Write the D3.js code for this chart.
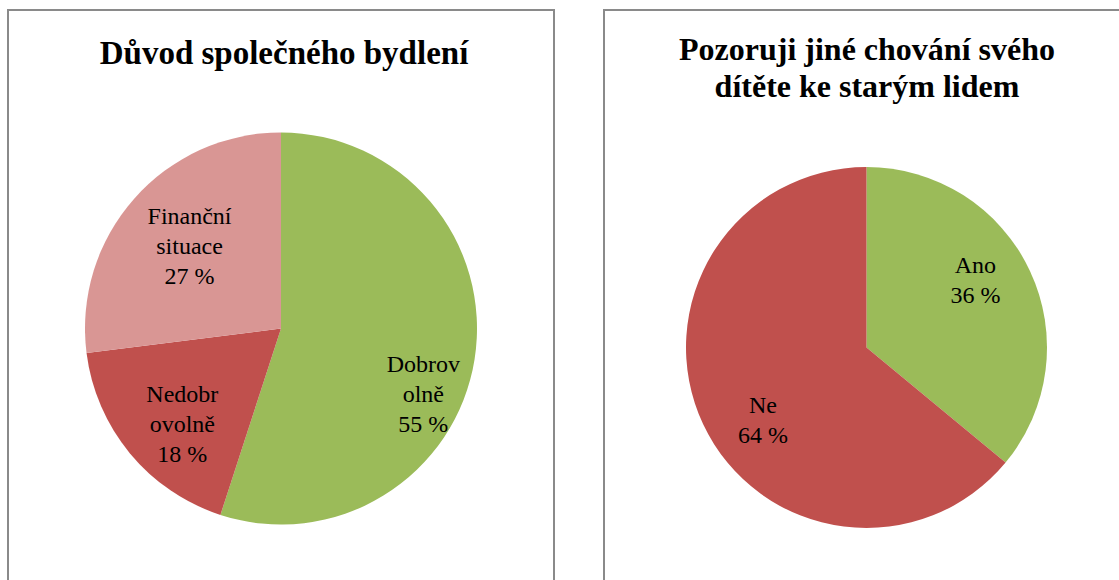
<!DOCTYPE html>
<html><head><meta charset="utf-8">
<script src="https://cdn.jsdelivr.net/npm/d3@7"></script>
<style>html,body{margin:0;padding:0;background:#fff;}svg{display:block;} text{font-family:"Liberation Serif","Times New Roman",Times,serif;}</style>
</head><body>
<script>
// Data
const chart1Title = ["Důvod společného bydlení"];
const chart1Categories = ["Dobrovolně", "Nedobrovolně", "Finanční situace"];
const chart1Labels = [["Dobrov", "olně"], ["Nedobr", "ovolně"], ["Finanční", "situace"]];
const chart1Values = [55, 18, 27];

const chart2Title = ["Pozoruji jiné chování svého", "dítěte ke starým lidem"];
const chart2Categories = ["Ano", "Ne"];
const chart2Labels = [["Ano"], ["Ne"]];
const chart2Values = [36, 64];

// Layout / style
const W = 1119, H = 580;
const svg = d3.select("body").append("svg").attr("width", W).attr("height", H);

function drawPanel(cfg) {
  svg.append("rect")
    .attr("x", cfg.px).attr("y", cfg.py).attr("width", cfg.pw).attr("height", cfg.ph)
    .attr("fill", "#fff").attr("stroke", "#8a8a8a").attr("stroke-width", 2);

  const g = svg.append("g");
  cfg.title.forEach((t, i) => {
    g.append("text").attr("x", cfg.tx).attr("y", cfg.ty + i * 37)
      .attr("text-anchor", "middle")
      .attr("font-weight", "bold").attr("font-size", cfg.tsize)
      .attr("fill", "#000").text(t);
  });

  const pie = d3.pie().sort(null).value(d => d.value);
  const data = cfg.values.map((v, i) => ({ value: v, cat: cfg.cats[i], lines: cfg.labels[i], color: cfg.colors[i] }));
  const arcs = pie(data);
  const arc = d3.arc().innerRadius(0).outerRadius(cfg.r);
  const pg = svg.append("g").attr("transform", `translate(${cfg.cx},${cfg.cy})`);
  pg.selectAll("path").data(arcs).join("path")
    .attr("d", arc).attr("fill", d => d.data.color);

  arcs.forEach((a, i) => {
    const mid = (a.startAngle + a.endAngle) / 2 + cfg.lblShift[i] * Math.PI / 180;
    const rr = cfg.r * cfg.lblFrac[i];
    const x = Math.sin(mid) * rr, y = -Math.cos(mid) * rr;
    const lines = a.data.lines.concat([d3.format("d")(a.data.value) + " %"]);
    const n = lines.length;
    const t = pg.append("text")
      .attr("text-anchor", "middle")
      .attr("font-size", 24).attr("fill", "#000");
    lines.forEach((ln, k) => {
      t.append("tspan").attr("x", x)
        .attr("y", y + 8 + (k - (n - 1) / 2) * 30).text(ln);
    });
  });
}

drawPanel({
  px: 8, py: 10, pw: 546, ph: 600,
  title: chart1Title, tx: 284, ty: 64, tsize: 33,
  cx: 281, cy: 328.5, r: 196,
  values: chart1Values, cats: chart1Categories, labels: chart1Labels,
  colors: ["#9BBB59", "#C0504D", "#D99694"],
  lblShift: [15.8, -4.4, 0.8], lblFrac: [0.80, 0.70, 0.63]
});

drawPanel({
  px: 604, py: 10, pw: 540, ph: 600,
  title: chart2Title, tx: 867, ty: 60, tsize: 32,
  cx: 866.5, cy: 347.5, r: 180.5,
  values: chart2Values, cats: chart2Categories, labels: chart2Labels,
  colors: ["#9BBB59", "#C0504D"],
  lblShift: [-6.6, -9.8], lblFrac: [0.71, 0.70]
});
</script>
</body></html>
